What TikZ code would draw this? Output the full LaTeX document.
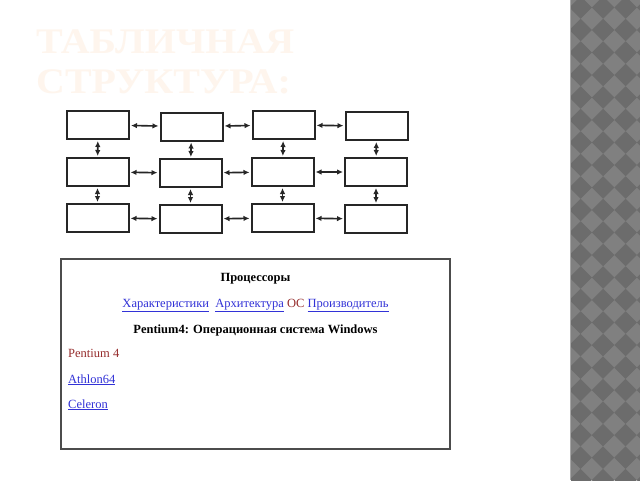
\documentclass[tikz,border=0pt]{standalone}
\usepackage{fontspec}
\setmainfont{Liberation Serif}
\usepackage{tikz}
\usetikzlibrary{arrows.meta}
\definecolor{titlecol}{RGB}{254,245,237}
\definecolor{linkcol}{RGB}{50,50,215}
\definecolor{visitcol}{RGB}{150,45,45}
\definecolor{stripdark}{RGB}{108,108,108}
\definecolor{striplight}{RGB}{128,128,128}

\begin{document}
\begin{tikzpicture}[x=1pt, y=-1pt]
        \tikzset{cell/.style = {draw=black!85, rectangle, line width=2pt, minimum width=62pt, minimum height=28pt, inner sep=0pt}}
        \tikzset{edge/.style = {<->, > = {Latex[length=6pt, width=5.5pt]}, line width=1.6pt, black!85, shorten <=1pt, shorten >=1pt}}
        \tikzset{txt/.style = {anchor=base, inner sep=0pt, font=\fontsize{12.5}{14}\selectfont}}
        \tikzset{heading/.style = {anchor=base west, inner sep=0pt, text=titlecol, font=\fontsize{36}{36}\selectfont\bfseries}}

        \useasboundingbox (0,0) rectangle (640,480);
        \fill[white] (0,0) rectangle (640,480);

        % patterned strip on the right
        \fill[striplight] (571,0) rectangle (640,480);
        \begin{scope}
            \clip (571,0) rectangle (640,480);
            \foreach \i in {-1,...,2}
                \foreach \j in {-2,...,21}
                    \fill[stripdark] (603+22.5*\i-11.25, 30+22.5*\j) -- ++(11.25,-11.25) -- ++(11.25,11.25) -- ++(-11.25,11.25) -- cycle;
        \end{scope}
        \draw[black!35, line width=1pt] (570.5,0) -- (570.5,480);

        % title
        \node[heading] (title1) at (36,53) {\scalebox{1.11}[1]{ТАБЛИЧНАЯ}};
        \node[heading] (title2) at (36,93) {\scalebox{1.11}[1]{СТРУКТУРА:}};

        \node[cell] (b11) at (98,125) {};
        \node[cell] (b12) at (191.5,126.5) {};
        \node[cell] (b13) at (283.5,125) {};
        \node[cell] (b14) at (376.5,126) {};
        \node[cell] (b21) at (97.5,172) {};
        \node[cell] (b22) at (190.5,173) {};
        \node[cell] (b23) at (282.5,172) {};
        \node[cell] (b24) at (376,172) {};
        \node[cell] (b31) at (97.5,218) {};
        \node[cell] (b32) at (190.5,219) {};
        \node[cell] (b33) at (282.5,218) {};
        \node[cell] (b34) at (376,219) {};

        \draw[edge] (b11) to (b12);
        \draw[edge] (b12) to (b13);
        \draw[edge] (b13) to (b14);

        \draw[edge] (b21) to (b22);
        \draw[edge] (b22) to (b23);
        \draw[edge] (b23) to (b24);

        \draw[edge] (b31) to (b32);
        \draw[edge] (b32) to (b33);
        \draw[edge] (b33) to (b34);

        \draw[edge] (b11) to (b21);
        \draw[edge] (b12) to (b22);
        \draw[edge] (b13) to (b23);
        \draw[edge] (b14) to (b24);

        \draw[edge] (b21) to (b31);
        \draw[edge] (b22) to (b32);
        \draw[edge] (b23) to (b33);
        \draw[edge] (b24) to (b34);

        % page snapshot
        \draw[black!70, line width=2.5pt] (61,259) rectangle (450,449);
        \node[txt, font=\fontsize{12.5}{14}\selectfont\bfseries] (head) at (255.5,281) {Процессоры};
        \node[txt] (menu) at (255.5,307) {\textcolor{linkcol}{\underline{Характеристики}}\ \ \textcolor{linkcol}{\underline{Архитектура}} \textcolor{visitcol}{ОС} \textcolor{linkcol}{\underline{Производитель}}};
        \node[txt, font=\fontsize{12.5}{14}\selectfont\bfseries] (info) at (255.5,333) {Pentium4: Операционная система Windows};
        \node[txt, anchor=base west, text=visitcol] (p4) at (68,357) {Pentium 4};
        \node[txt, anchor=base west, text=linkcol] (athlon) at (68,383) {\underline{Athlon64}};
        \node[txt, anchor=base west, text=linkcol] (celeron) at (68,408) {\underline{Celeron}};
    \end{tikzpicture}
\end{document}
